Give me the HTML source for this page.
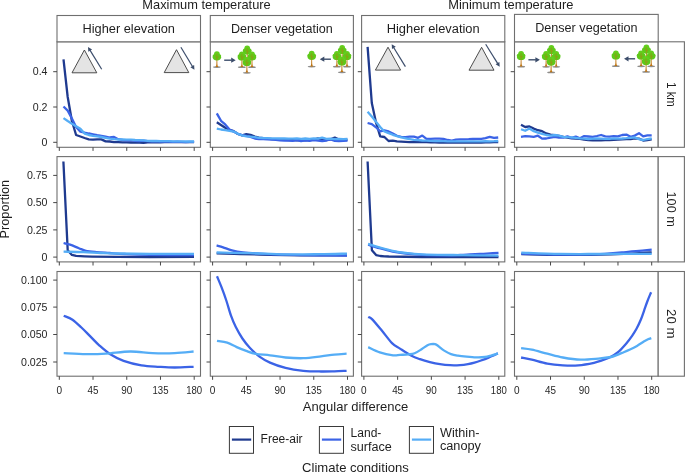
<!DOCTYPE html><html><head><meta charset="utf-8"><title>Angular difference</title><style>html,body{margin:0;padding:0;background:#fff;}svg{display:block;font-family:"Liberation Sans", sans-serif;will-change:transform;}</style></head><body>
<svg width="685" height="473" viewBox="0 0 685 473">
<rect x="0" y="0" width="685" height="473" fill="#fff"/>
<defs>
<g id="tree"><ellipse cx="0" cy="0.2" rx="4" ry="0.85" fill="#8e8e8e"/><path d="M-1.5 0 Q-0.55 -0.8 -0.5 -3 L-0.35 -9 L0.35 -9 L0.5 -3 Q0.55 -0.8 1.5 0 Z" fill="#bf7410"/><ellipse cx="0" cy="-12.7" rx="2.9" ry="2.9" fill="#62cf1d"/><ellipse cx="0" cy="-9.6" rx="4.2" ry="3.1" fill="#5ec91a"/><circle cx="-2.5" cy="-10.9" r="1.8" fill="#5ec91a"/><circle cx="2.5" cy="-10.9" r="1.8" fill="#5ec91a"/><path d="M0 -6.5 L0 -13.5 M0 -9.5 L-1.8 -11.2 M0 -8.3 L1.8 -10.6" stroke="#bf7410" stroke-width="0.6" fill="none" opacity="0.75"/></g>
<g id="cluster"><use href="#tree" x="0.3" y="-11.5"/><use href="#tree" x="-5.0" y="-5.6"/><use href="#tree" x="5.1" y="-5.6"/><use href="#tree" x="0" y="0"/></g>
</defs>
<text x="206.5" y="8.9" font-size="12.2" fill="#1e1e1e" text-anchor="middle" textLength="128.4" lengthAdjust="spacingAndGlyphs">Maximum temperature</text>
<text x="510.8" y="8.9" font-size="12.2" fill="#1e1e1e" text-anchor="middle" textLength="125.2" lengthAdjust="spacingAndGlyphs">Minimum temperature</text>
<rect x="57" y="41.8" width="143.5" height="105.5" fill="none" stroke="#6f6f6f" stroke-width="1.1"/>
<line x1="53.2" y1="142.3" x2="57" y2="142.3" stroke="#474747" stroke-width="1"/>
<line x1="53.2" y1="107" x2="57" y2="107" stroke="#474747" stroke-width="1"/>
<line x1="53.2" y1="71.7" x2="57" y2="71.7" stroke="#474747" stroke-width="1"/>
<line x1="59.3" y1="147.3" x2="59.3" y2="150.9" stroke="#474747" stroke-width="1"/>
<line x1="93.03" y1="147.3" x2="93.03" y2="150.9" stroke="#474747" stroke-width="1"/>
<line x1="126.75" y1="147.3" x2="126.75" y2="150.9" stroke="#474747" stroke-width="1"/>
<line x1="160.47" y1="147.3" x2="160.47" y2="150.9" stroke="#474747" stroke-width="1"/>
<line x1="194.2" y1="147.3" x2="194.2" y2="150.9" stroke="#474747" stroke-width="1"/>
<rect x="210.3" y="41.8" width="143.1" height="105.5" fill="none" stroke="#6f6f6f" stroke-width="1.1"/>
<line x1="206.5" y1="142.3" x2="210.3" y2="142.3" stroke="#474747" stroke-width="1"/>
<line x1="206.5" y1="107" x2="210.3" y2="107" stroke="#474747" stroke-width="1"/>
<line x1="206.5" y1="71.7" x2="210.3" y2="71.7" stroke="#474747" stroke-width="1"/>
<line x1="212.6" y1="147.3" x2="212.6" y2="150.9" stroke="#474747" stroke-width="1"/>
<line x1="246.33" y1="147.3" x2="246.33" y2="150.9" stroke="#474747" stroke-width="1"/>
<line x1="280.05" y1="147.3" x2="280.05" y2="150.9" stroke="#474747" stroke-width="1"/>
<line x1="313.78" y1="147.3" x2="313.78" y2="150.9" stroke="#474747" stroke-width="1"/>
<line x1="347.5" y1="147.3" x2="347.5" y2="150.9" stroke="#474747" stroke-width="1"/>
<rect x="361.6" y="41.8" width="143.2" height="105.5" fill="none" stroke="#6f6f6f" stroke-width="1.1"/>
<line x1="357.8" y1="142.3" x2="361.6" y2="142.3" stroke="#474747" stroke-width="1"/>
<line x1="357.8" y1="107" x2="361.6" y2="107" stroke="#474747" stroke-width="1"/>
<line x1="357.8" y1="71.7" x2="361.6" y2="71.7" stroke="#474747" stroke-width="1"/>
<line x1="363.9" y1="147.3" x2="363.9" y2="150.9" stroke="#474747" stroke-width="1"/>
<line x1="397.63" y1="147.3" x2="397.63" y2="150.9" stroke="#474747" stroke-width="1"/>
<line x1="431.35" y1="147.3" x2="431.35" y2="150.9" stroke="#474747" stroke-width="1"/>
<line x1="465.08" y1="147.3" x2="465.08" y2="150.9" stroke="#474747" stroke-width="1"/>
<line x1="498.8" y1="147.3" x2="498.8" y2="150.9" stroke="#474747" stroke-width="1"/>
<rect x="514.5" y="41.8" width="143.7" height="105.5" fill="none" stroke="#6f6f6f" stroke-width="1.1"/>
<line x1="510.7" y1="142.3" x2="514.5" y2="142.3" stroke="#474747" stroke-width="1"/>
<line x1="510.7" y1="107" x2="514.5" y2="107" stroke="#474747" stroke-width="1"/>
<line x1="510.7" y1="71.7" x2="514.5" y2="71.7" stroke="#474747" stroke-width="1"/>
<line x1="516.8" y1="147.3" x2="516.8" y2="150.9" stroke="#474747" stroke-width="1"/>
<line x1="550.52" y1="147.3" x2="550.52" y2="150.9" stroke="#474747" stroke-width="1"/>
<line x1="584.25" y1="147.3" x2="584.25" y2="150.9" stroke="#474747" stroke-width="1"/>
<line x1="617.97" y1="147.3" x2="617.97" y2="150.9" stroke="#474747" stroke-width="1"/>
<line x1="651.7" y1="147.3" x2="651.7" y2="150.9" stroke="#474747" stroke-width="1"/>
<rect x="658.2" y="41.8" width="26.2" height="105.5" fill="#fff" stroke="#6f6f6f" stroke-width="1.1"/>
<text x="667.4" y="94.55" font-size="12.3" fill="#1e1e1e" text-anchor="middle" textLength="24.5" lengthAdjust="spacingAndGlyphs" transform="rotate(90 667.4 94.55)">1 km</text>
<rect x="57" y="156.6" width="143.5" height="105.3" fill="none" stroke="#6f6f6f" stroke-width="1.1"/>
<line x1="53.2" y1="257.1" x2="57" y2="257.1" stroke="#474747" stroke-width="1"/>
<line x1="53.2" y1="229.9" x2="57" y2="229.9" stroke="#474747" stroke-width="1"/>
<line x1="53.2" y1="202.6" x2="57" y2="202.6" stroke="#474747" stroke-width="1"/>
<line x1="53.2" y1="175.4" x2="57" y2="175.4" stroke="#474747" stroke-width="1"/>
<line x1="59.3" y1="261.9" x2="59.3" y2="265.5" stroke="#474747" stroke-width="1"/>
<line x1="93.03" y1="261.9" x2="93.03" y2="265.5" stroke="#474747" stroke-width="1"/>
<line x1="126.75" y1="261.9" x2="126.75" y2="265.5" stroke="#474747" stroke-width="1"/>
<line x1="160.47" y1="261.9" x2="160.47" y2="265.5" stroke="#474747" stroke-width="1"/>
<line x1="194.2" y1="261.9" x2="194.2" y2="265.5" stroke="#474747" stroke-width="1"/>
<rect x="210.3" y="156.6" width="143.1" height="105.3" fill="none" stroke="#6f6f6f" stroke-width="1.1"/>
<line x1="206.5" y1="257.1" x2="210.3" y2="257.1" stroke="#474747" stroke-width="1"/>
<line x1="206.5" y1="229.9" x2="210.3" y2="229.9" stroke="#474747" stroke-width="1"/>
<line x1="206.5" y1="202.6" x2="210.3" y2="202.6" stroke="#474747" stroke-width="1"/>
<line x1="206.5" y1="175.4" x2="210.3" y2="175.4" stroke="#474747" stroke-width="1"/>
<line x1="212.6" y1="261.9" x2="212.6" y2="265.5" stroke="#474747" stroke-width="1"/>
<line x1="246.33" y1="261.9" x2="246.33" y2="265.5" stroke="#474747" stroke-width="1"/>
<line x1="280.05" y1="261.9" x2="280.05" y2="265.5" stroke="#474747" stroke-width="1"/>
<line x1="313.78" y1="261.9" x2="313.78" y2="265.5" stroke="#474747" stroke-width="1"/>
<line x1="347.5" y1="261.9" x2="347.5" y2="265.5" stroke="#474747" stroke-width="1"/>
<rect x="361.6" y="156.6" width="143.2" height="105.3" fill="none" stroke="#6f6f6f" stroke-width="1.1"/>
<line x1="357.8" y1="257.1" x2="361.6" y2="257.1" stroke="#474747" stroke-width="1"/>
<line x1="357.8" y1="229.9" x2="361.6" y2="229.9" stroke="#474747" stroke-width="1"/>
<line x1="357.8" y1="202.6" x2="361.6" y2="202.6" stroke="#474747" stroke-width="1"/>
<line x1="357.8" y1="175.4" x2="361.6" y2="175.4" stroke="#474747" stroke-width="1"/>
<line x1="363.9" y1="261.9" x2="363.9" y2="265.5" stroke="#474747" stroke-width="1"/>
<line x1="397.63" y1="261.9" x2="397.63" y2="265.5" stroke="#474747" stroke-width="1"/>
<line x1="431.35" y1="261.9" x2="431.35" y2="265.5" stroke="#474747" stroke-width="1"/>
<line x1="465.08" y1="261.9" x2="465.08" y2="265.5" stroke="#474747" stroke-width="1"/>
<line x1="498.8" y1="261.9" x2="498.8" y2="265.5" stroke="#474747" stroke-width="1"/>
<rect x="514.5" y="156.6" width="143.7" height="105.3" fill="none" stroke="#6f6f6f" stroke-width="1.1"/>
<line x1="510.7" y1="257.1" x2="514.5" y2="257.1" stroke="#474747" stroke-width="1"/>
<line x1="510.7" y1="229.9" x2="514.5" y2="229.9" stroke="#474747" stroke-width="1"/>
<line x1="510.7" y1="202.6" x2="514.5" y2="202.6" stroke="#474747" stroke-width="1"/>
<line x1="510.7" y1="175.4" x2="514.5" y2="175.4" stroke="#474747" stroke-width="1"/>
<line x1="516.8" y1="261.9" x2="516.8" y2="265.5" stroke="#474747" stroke-width="1"/>
<line x1="550.52" y1="261.9" x2="550.52" y2="265.5" stroke="#474747" stroke-width="1"/>
<line x1="584.25" y1="261.9" x2="584.25" y2="265.5" stroke="#474747" stroke-width="1"/>
<line x1="617.97" y1="261.9" x2="617.97" y2="265.5" stroke="#474747" stroke-width="1"/>
<line x1="651.7" y1="261.9" x2="651.7" y2="265.5" stroke="#474747" stroke-width="1"/>
<rect x="658.2" y="156.6" width="26.2" height="105.3" fill="#fff" stroke="#6f6f6f" stroke-width="1.1"/>
<text x="667.4" y="209.25" font-size="12.3" fill="#1e1e1e" text-anchor="middle" textLength="35.5" lengthAdjust="spacingAndGlyphs" transform="rotate(90 667.4 209.25)">100 m</text>
<rect x="57" y="271.5" width="143.5" height="104.7" fill="none" stroke="#6f6f6f" stroke-width="1.1"/>
<line x1="53.2" y1="362" x2="57" y2="362" stroke="#474747" stroke-width="1"/>
<line x1="53.2" y1="334.5" x2="57" y2="334.5" stroke="#474747" stroke-width="1"/>
<line x1="53.2" y1="307.1" x2="57" y2="307.1" stroke="#474747" stroke-width="1"/>
<line x1="53.2" y1="280.1" x2="57" y2="280.1" stroke="#474747" stroke-width="1"/>
<line x1="59.3" y1="376.2" x2="59.3" y2="379.8" stroke="#474747" stroke-width="1"/>
<line x1="93.03" y1="376.2" x2="93.03" y2="379.8" stroke="#474747" stroke-width="1"/>
<line x1="126.75" y1="376.2" x2="126.75" y2="379.8" stroke="#474747" stroke-width="1"/>
<line x1="160.47" y1="376.2" x2="160.47" y2="379.8" stroke="#474747" stroke-width="1"/>
<line x1="194.2" y1="376.2" x2="194.2" y2="379.8" stroke="#474747" stroke-width="1"/>
<rect x="210.3" y="271.5" width="143.1" height="104.7" fill="none" stroke="#6f6f6f" stroke-width="1.1"/>
<line x1="206.5" y1="362" x2="210.3" y2="362" stroke="#474747" stroke-width="1"/>
<line x1="206.5" y1="334.5" x2="210.3" y2="334.5" stroke="#474747" stroke-width="1"/>
<line x1="206.5" y1="307.1" x2="210.3" y2="307.1" stroke="#474747" stroke-width="1"/>
<line x1="206.5" y1="280.1" x2="210.3" y2="280.1" stroke="#474747" stroke-width="1"/>
<line x1="212.6" y1="376.2" x2="212.6" y2="379.8" stroke="#474747" stroke-width="1"/>
<line x1="246.33" y1="376.2" x2="246.33" y2="379.8" stroke="#474747" stroke-width="1"/>
<line x1="280.05" y1="376.2" x2="280.05" y2="379.8" stroke="#474747" stroke-width="1"/>
<line x1="313.78" y1="376.2" x2="313.78" y2="379.8" stroke="#474747" stroke-width="1"/>
<line x1="347.5" y1="376.2" x2="347.5" y2="379.8" stroke="#474747" stroke-width="1"/>
<rect x="361.6" y="271.5" width="143.2" height="104.7" fill="none" stroke="#6f6f6f" stroke-width="1.1"/>
<line x1="357.8" y1="362" x2="361.6" y2="362" stroke="#474747" stroke-width="1"/>
<line x1="357.8" y1="334.5" x2="361.6" y2="334.5" stroke="#474747" stroke-width="1"/>
<line x1="357.8" y1="307.1" x2="361.6" y2="307.1" stroke="#474747" stroke-width="1"/>
<line x1="357.8" y1="280.1" x2="361.6" y2="280.1" stroke="#474747" stroke-width="1"/>
<line x1="363.9" y1="376.2" x2="363.9" y2="379.8" stroke="#474747" stroke-width="1"/>
<line x1="397.63" y1="376.2" x2="397.63" y2="379.8" stroke="#474747" stroke-width="1"/>
<line x1="431.35" y1="376.2" x2="431.35" y2="379.8" stroke="#474747" stroke-width="1"/>
<line x1="465.08" y1="376.2" x2="465.08" y2="379.8" stroke="#474747" stroke-width="1"/>
<line x1="498.8" y1="376.2" x2="498.8" y2="379.8" stroke="#474747" stroke-width="1"/>
<rect x="514.5" y="271.5" width="143.7" height="104.7" fill="none" stroke="#6f6f6f" stroke-width="1.1"/>
<line x1="510.7" y1="362" x2="514.5" y2="362" stroke="#474747" stroke-width="1"/>
<line x1="510.7" y1="334.5" x2="514.5" y2="334.5" stroke="#474747" stroke-width="1"/>
<line x1="510.7" y1="307.1" x2="514.5" y2="307.1" stroke="#474747" stroke-width="1"/>
<line x1="510.7" y1="280.1" x2="514.5" y2="280.1" stroke="#474747" stroke-width="1"/>
<line x1="516.8" y1="376.2" x2="516.8" y2="379.8" stroke="#474747" stroke-width="1"/>
<line x1="550.52" y1="376.2" x2="550.52" y2="379.8" stroke="#474747" stroke-width="1"/>
<line x1="584.25" y1="376.2" x2="584.25" y2="379.8" stroke="#474747" stroke-width="1"/>
<line x1="617.97" y1="376.2" x2="617.97" y2="379.8" stroke="#474747" stroke-width="1"/>
<line x1="651.7" y1="376.2" x2="651.7" y2="379.8" stroke="#474747" stroke-width="1"/>
<rect x="658.2" y="271.5" width="26.2" height="104.7" fill="#fff" stroke="#6f6f6f" stroke-width="1.1"/>
<text x="667.4" y="323.85" font-size="12.3" fill="#1e1e1e" text-anchor="middle" textLength="29.5" lengthAdjust="spacingAndGlyphs" transform="rotate(90 667.4 323.85)">20 m</text>
<rect x="57" y="15.5" width="143.5" height="26.3" fill="#fff" stroke="#6f6f6f" stroke-width="1.1"/>
<text x="128.75" y="32.6" font-size="12.5" fill="#1e1e1e" text-anchor="middle" textLength="92.5" lengthAdjust="spacingAndGlyphs">Higher elevation</text>
<rect x="210.3" y="15.5" width="143.1" height="26.3" fill="#fff" stroke="#6f6f6f" stroke-width="1.1"/>
<text x="281.85" y="32.6" font-size="12.5" fill="#1e1e1e" text-anchor="middle" textLength="101.9" lengthAdjust="spacingAndGlyphs">Denser vegetation</text>
<rect x="361.6" y="15.5" width="143.2" height="26.3" fill="#fff" stroke="#6f6f6f" stroke-width="1.1"/>
<text x="433.2" y="32.6" font-size="12.5" fill="#1e1e1e" text-anchor="middle" textLength="93" lengthAdjust="spacingAndGlyphs">Higher elevation</text>
<rect x="514.5" y="14.4" width="143.7" height="27.4" fill="#fff" stroke="#6f6f6f" stroke-width="1.1"/>
<text x="586.35" y="32.2" font-size="12.5" fill="#1e1e1e" text-anchor="middle" textLength="102.4" lengthAdjust="spacingAndGlyphs">Denser vegetation</text>
<text x="47.5" y="146" font-size="10.6" fill="#262626" text-anchor="end">0</text>
<text x="47.5" y="110.7" font-size="10.6" fill="#262626" text-anchor="end">0.2</text>
<text x="47.5" y="75.4" font-size="10.6" fill="#262626" text-anchor="end">0.4</text>
<text x="47.5" y="260.8" font-size="10.6" fill="#262626" text-anchor="end">0</text>
<text x="47.5" y="233.6" font-size="10.6" fill="#262626" text-anchor="end">0.25</text>
<text x="47.5" y="206.3" font-size="10.6" fill="#262626" text-anchor="end">0.50</text>
<text x="47.5" y="179.1" font-size="10.6" fill="#262626" text-anchor="end">0.75</text>
<text x="47.5" y="365.7" font-size="10.6" fill="#262626" text-anchor="end">0.025</text>
<text x="47.5" y="338.2" font-size="10.6" fill="#262626" text-anchor="end">0.050</text>
<text x="47.5" y="310.8" font-size="10.6" fill="#262626" text-anchor="end">0.075</text>
<text x="47.5" y="283.8" font-size="10.6" fill="#262626" text-anchor="end">0.100</text>
<text x="59.3" y="393.8" font-size="10.3" fill="#262626" text-anchor="middle" textLength="5.6" lengthAdjust="spacingAndGlyphs">0</text>
<text x="93.03" y="393.8" font-size="10.3" fill="#262626" text-anchor="middle" textLength="11" lengthAdjust="spacingAndGlyphs">45</text>
<text x="126.75" y="393.8" font-size="10.3" fill="#262626" text-anchor="middle" textLength="11" lengthAdjust="spacingAndGlyphs">90</text>
<text x="160.47" y="393.8" font-size="10.3" fill="#262626" text-anchor="middle" textLength="16" lengthAdjust="spacingAndGlyphs">135</text>
<text x="194.2" y="393.8" font-size="10.3" fill="#262626" text-anchor="middle" textLength="16" lengthAdjust="spacingAndGlyphs">180</text>
<text x="212.6" y="393.8" font-size="10.3" fill="#262626" text-anchor="middle" textLength="5.6" lengthAdjust="spacingAndGlyphs">0</text>
<text x="246.33" y="393.8" font-size="10.3" fill="#262626" text-anchor="middle" textLength="11" lengthAdjust="spacingAndGlyphs">45</text>
<text x="280.05" y="393.8" font-size="10.3" fill="#262626" text-anchor="middle" textLength="11" lengthAdjust="spacingAndGlyphs">90</text>
<text x="313.78" y="393.8" font-size="10.3" fill="#262626" text-anchor="middle" textLength="16" lengthAdjust="spacingAndGlyphs">135</text>
<text x="347.5" y="393.8" font-size="10.3" fill="#262626" text-anchor="middle" textLength="16" lengthAdjust="spacingAndGlyphs">180</text>
<text x="363.9" y="393.8" font-size="10.3" fill="#262626" text-anchor="middle" textLength="5.6" lengthAdjust="spacingAndGlyphs">0</text>
<text x="397.63" y="393.8" font-size="10.3" fill="#262626" text-anchor="middle" textLength="11" lengthAdjust="spacingAndGlyphs">45</text>
<text x="431.35" y="393.8" font-size="10.3" fill="#262626" text-anchor="middle" textLength="11" lengthAdjust="spacingAndGlyphs">90</text>
<text x="465.08" y="393.8" font-size="10.3" fill="#262626" text-anchor="middle" textLength="16" lengthAdjust="spacingAndGlyphs">135</text>
<text x="498.8" y="393.8" font-size="10.3" fill="#262626" text-anchor="middle" textLength="16" lengthAdjust="spacingAndGlyphs">180</text>
<text x="516.8" y="393.8" font-size="10.3" fill="#262626" text-anchor="middle" textLength="5.6" lengthAdjust="spacingAndGlyphs">0</text>
<text x="550.52" y="393.8" font-size="10.3" fill="#262626" text-anchor="middle" textLength="11" lengthAdjust="spacingAndGlyphs">45</text>
<text x="584.25" y="393.8" font-size="10.3" fill="#262626" text-anchor="middle" textLength="11" lengthAdjust="spacingAndGlyphs">90</text>
<text x="617.97" y="393.8" font-size="10.3" fill="#262626" text-anchor="middle" textLength="16" lengthAdjust="spacingAndGlyphs">135</text>
<text x="651.7" y="393.8" font-size="10.3" fill="#262626" text-anchor="middle" textLength="16" lengthAdjust="spacingAndGlyphs">180</text>
<text x="355.6" y="410.9" font-size="12.6" fill="#1e1e1e" text-anchor="middle" textLength="105.5" lengthAdjust="spacingAndGlyphs">Angular difference</text>
<text x="8.8" y="209.1" font-size="11.9" fill="#1e1e1e" text-anchor="middle" textLength="58.6" lengthAdjust="spacingAndGlyphs" transform="rotate(-90 8.8 209.1)">Proportion</text>
<polyline points="63.5,59.3 67.7,97 71.9,121 76.1,135 80.4,136.5 84.6,138 88.8,139.3 93,139.6 97.2,139.4 101.4,139.4 105.6,141.4 109.8,141.5 114,142.2 118.2,142.1 122.5,142.3 126.7,142.4 130.9,142.5 135.1,142.6 139.3,142.7 143.5,142.8 147.7,142.3 152,142.4 156.2,142.2 160.4,142.3 164.6,142.2 168.8,142.2 173,142.1 177.2,142.2 181.5,142.1 185.7,142.2 189.9,142.1 194.1,142.1" fill="none" stroke="#1f3a8f" stroke-width="2.3" stroke-linejoin="round"/>
<polyline points="63.5,106.5 67.7,110.6 71.9,118.5 76.1,127 80.4,131.6 84.6,132.6 88.8,133.5 93,134.3 97.2,135.1 101.4,135.8 105.6,136.6 109.8,137.5 114,136.9 118.2,139.2 122.5,140 126.7,140.4 130.9,140.2 135.1,140.8 139.3,141 143.5,140.6 147.7,141.2 152,141.4 156.2,141.2 160.4,141.5 164.6,141.3 168.8,141.6 173,141.9 177.2,141.6 181.5,141.9 185.7,142.1 189.9,141.8 194.1,141.9" fill="none" stroke="#3b63e6" stroke-width="2.3" stroke-linejoin="round"/>
<polyline points="63.5,118.1 67.7,121 71.9,123.7 76.1,126.2 80.4,128.8 84.6,133.6 88.8,135 93,135.8 97.2,136.3 101.4,137 105.6,137.8 109.8,138.6 114,139.2 118.2,139.5 122.5,139.4 126.7,139.6 130.9,139.7 135.1,140 139.3,140.1 143.5,140.4 147.7,140.9 152,141 156.2,140.8 160.4,141.1 164.6,141.2 168.8,141.1 173,141.3 177.2,141.4 181.5,141.3 185.7,141.5 189.9,141.4 194.1,141.5" fill="none" stroke="#55adf6" stroke-width="2.3" stroke-linejoin="round"/>
<polyline points="216.8,122.2 221,125 225.2,127.8 229.5,129.8 233.7,131.2 237.9,134 242.1,135.4 246.3,134.2 250.5,134.8 254.8,136.6 259,137.6 263.2,138.1 267.4,138.6 271.6,139 275.8,139.2 280,139.7 284.3,139.8 288.5,140 292.7,140.2 296.9,140.4 301.1,140.1 305.3,140.3 309.5,140.2 313.8,139.7 318,138.4 322.2,139.6 326.4,140.2 330.6,139.4 334.8,137.6 339,139.6 343.3,140.2 347.5,139.6" fill="none" stroke="#1f3a8f" stroke-width="2.3" stroke-linejoin="round"/>
<polyline points="216.8,113.4 221,120.8 225.2,124.4 229.5,129.6 233.7,131.6 237.9,133.8 242.1,135.2 246.3,135.9 250.5,137 254.8,138.5 259,139 263.2,139.1 267.4,139.4 271.6,139.7 275.8,139.9 280,140.4 284.3,140.6 288.5,140.5 292.7,140.8 296.9,140.2 301.1,141 305.3,140.4 309.5,140.9 313.8,140.2 318,140.6 322.2,141 326.4,140.5 330.6,139.5 334.8,140.8 339,141 343.3,140.9 347.5,140.6" fill="none" stroke="#3b63e6" stroke-width="2.3" stroke-linejoin="round"/>
<polyline points="216.8,128.6 221,129.5 225.2,130.2 229.5,130.9 233.7,131.6 237.9,133.8 242.1,135.3 246.3,136.3 250.5,136.7 254.8,137.2 259,137.8 263.2,138 267.4,138.1 271.6,138.3 275.8,138.4 280,138.5 284.3,138.5 288.5,138.6 292.7,138.7 296.9,138.4 301.1,138.8 305.3,138.5 309.5,138.9 313.8,138.3 318,138.6 322.2,137.6 326.4,138.8 330.6,138.6 334.8,139.1 339,139 343.3,139.2 347.5,138.9" fill="none" stroke="#55adf6" stroke-width="2.3" stroke-linejoin="round"/>
<polyline points="367.6,46.9 371.8,103 376,122.4 380.2,136.4 384.4,137 388.6,141 392.8,140.7 397,141.3 401.2,141.6 405.5,141.9 409.7,142.2 413.9,142.1 418.1,142 422.3,142.1 426.5,142.2 430.7,142.3 435,142.4 439.2,142.5 443.4,142.4 447.6,142.6 451.8,142.7 456,142.6 460.2,142.5 464.5,142.6 468.7,142.5 472.9,142.4 477.1,142.6 481.3,142.5 485.5,142.4 489.7,142.3 494,142.2 498.2,142" fill="none" stroke="#1f3a8f" stroke-width="2.3" stroke-linejoin="round"/>
<polyline points="367.6,123 371.8,124.1 376,127.3 380.2,131.4 384.4,130.4 388.6,131.4 392.8,133.6 397,135.8 401.2,136.8 405.5,137.2 409.7,136.7 413.9,136.7 418.1,137.8 422.3,135.6 426.5,138.8 430.7,138.9 435,138.7 439.2,138.7 443.4,138.9 447.6,140 451.8,140.6 456,139.6 460.2,139.4 464.5,139.3 468.7,139.2 472.9,139 477.1,138.9 481.3,138.8 485.5,138.1 489.7,136.8 494,137.9 498.2,137.5" fill="none" stroke="#3b63e6" stroke-width="2.3" stroke-linejoin="round"/>
<polyline points="367.6,111.7 371.8,116.6 376,121.7 380.2,127 384.4,131.5 388.6,133.1 392.8,134.8 397,136.2 401.2,137.4 405.5,138.3 409.7,139.1 413.9,139.9 418.1,140.2 422.3,140.5 426.5,140.6 430.7,140.8 435,141 439.2,141.1 443.4,141.2 447.6,141.3 451.8,141.4 456,141.3 460.2,141.4 464.5,141.3 468.7,141.4 472.9,141.3 477.1,141.4 481.3,141.3 485.5,141.2 489.7,141.3 494,141.2 498.2,141" fill="none" stroke="#55adf6" stroke-width="2.3" stroke-linejoin="round"/>
<polyline points="521,124.8 525.2,127 529.4,126.4 533.7,128.6 537.9,130.2 542.1,131.2 546.3,133.4 550.5,134.6 554.7,135.1 558.9,135.9 563.2,136.8 567.4,137.6 571.6,138.3 575.8,138.5 580,138.8 584.2,139.5 588.4,140.1 592.7,140.3 596.9,140.4 601.1,140.3 605.3,140.2 609.5,140 613.7,139.8 617.9,139.5 622.2,139.3 626.4,139.1 630.6,139 634.8,138.3 639,138.6 643.2,140.5 647.4,140 651.7,139.4" fill="none" stroke="#1f3a8f" stroke-width="2.3" stroke-linejoin="round"/>
<polyline points="521,136.8 525.2,136.2 529.4,136.3 533.7,136.8 537.9,135.7 542.1,138.6 546.3,138.5 550.5,137.6 554.7,136.9 558.9,137.6 563.2,137.6 567.4,136.4 571.6,137.9 575.8,136.6 580,138.3 584.2,136.1 588.4,136.5 592.7,136.9 596.9,136 601.1,135 605.3,136.4 609.5,136.7 613.7,136.2 617.9,136.3 622.2,135 626.4,134.6 630.6,136.8 634.8,135.6 639,133.2 643.2,136.4 647.4,135.4 651.7,135.3" fill="none" stroke="#3b63e6" stroke-width="2.3" stroke-linejoin="round"/>
<polyline points="521,129.2 525.2,130.8 529.4,128.6 533.7,131.2 537.9,132.6 542.1,133.8 546.3,135 550.5,135.6 554.7,135 558.9,135.6 563.2,136.9 567.4,137.2 571.6,137.4 575.8,137.9 580,138.3 584.2,138.6 588.4,139 592.7,138.7 596.9,138.5 601.1,138.6 605.3,138.9 609.5,138.8 613.7,138.4 617.9,138.6 622.2,138.5 626.4,138.2 630.6,137.8 634.8,137.4 639,139.2 643.2,140 647.4,139.1 651.7,138.4" fill="none" stroke="#55adf6" stroke-width="2.3" stroke-linejoin="round"/>
<polyline points="63.4,161.5 67.7,250.2 71.9,254.9 76.1,255.9 80.4,256.2 84.6,256.4 92,256.6 117,256.9 150,257 194,256.8" fill="none" stroke="#1f3a8f" stroke-width="2.3" stroke-linejoin="round"/>
<path d="M63.6 243 C64.68 243.28 67.55 243.83 70.1 244.7 C72.65 245.57 76.27 247.18 78.9 248.2 C81.53 249.22 82.98 250.15 85.9 250.8 C88.82 251.45 92.47 251.73 96.4 252.1 C100.33 252.47 104.73 252.68 109.5 253 C114.27 253.32 118.25 253.7 125 254 C131.75 254.3 138.5 254.62 150 254.8 C161.5 254.98 186.67 255.05 194 255.1" fill="none" stroke="#3b63e6" stroke-width="2.3" stroke-linejoin="round"/>
<path d="M63.6 251.7 C66.88 251.77 77.1 251.88 83.3 252.1 C89.5 252.32 95.18 252.77 100.8 253 C106.42 253.23 108.8 253.37 117 253.5 C125.2 253.63 137.17 253.75 150 253.8 C162.83 253.85 186.67 253.8 194 253.8" fill="none" stroke="#55adf6" stroke-width="2.3" stroke-linejoin="round"/>
<path d="M216.6 253.4 C220.5 253.5 231.1 253.77 240 254 C248.9 254.23 260 254.58 270 254.8 C280 255.02 290 255.2 300 255.3 C310 255.4 322.17 255.38 330 255.4 C337.83 255.42 344.17 255.4 347 255.4" fill="none" stroke="#1f3a8f" stroke-width="2.3" stroke-linejoin="round"/>
<path d="M216.6 245.4 C217.68 245.72 220.55 246.48 223.1 247.3 C225.65 248.12 228.6 249.47 231.9 250.3 C235.2 251.13 238.33 251.75 242.9 252.3 C247.47 252.85 252.28 253.2 259.3 253.6 C266.32 254 274.88 254.42 285 254.7 C295.12 254.98 309.67 255.15 320 255.3 C330.33 255.45 342.5 255.55 347 255.6" fill="none" stroke="#3b63e6" stroke-width="2.3" stroke-linejoin="round"/>
<path d="M216.6 252.5 C222.17 252.6 238.6 252.78 250 253.1 C261.4 253.42 273.33 254.22 285 254.4 C296.67 254.58 309.67 254.33 320 254.2 C330.33 254.07 342.5 253.7 347 253.6" fill="none" stroke="#55adf6" stroke-width="2.3" stroke-linejoin="round"/>
<polyline points="367.6,161.5 371.9,250.3 376.1,255.1 380.3,256 384.5,256.3 388.7,256.5 422,257 460,257.1 498.5,257.2" fill="none" stroke="#1f3a8f" stroke-width="2.3" stroke-linejoin="round"/>
<path d="M368.1 244.6 C370 245.2 375.42 247.05 379.5 248.2 C383.58 249.35 388.22 250.62 392.6 251.5 C396.98 252.38 400.9 252.95 405.8 253.5 C410.7 254.05 415.47 254.5 422 254.8 C428.53 255.1 438.67 255.27 445 255.3 C451.33 255.33 455.83 255.13 460 255 C464.17 254.87 466.67 254.67 470 254.5 C473.33 254.33 476.67 254.18 480 254 C483.33 253.82 486.92 253.58 490 253.4 C493.08 253.22 497.08 252.98 498.5 252.9" fill="none" stroke="#3b63e6" stroke-width="2.3" stroke-linejoin="round"/>
<path d="M368.1 243.8 C370 244.38 375.42 246.13 379.5 247.3 C383.58 248.47 388.22 249.85 392.6 250.8 C396.98 251.75 400.9 252.42 405.8 253 C410.7 253.58 412.97 253.95 422 254.3 C431.03 254.65 447.25 254.88 460 255.1 C472.75 255.32 492.08 255.52 498.5 255.6" fill="none" stroke="#55adf6" stroke-width="2.3" stroke-linejoin="round"/>
<path d="M521.3 254.1 C527.75 254.23 546.88 254.82 560 254.9 C573.12 254.98 589.17 254.78 600 254.6 C610.83 254.42 617.5 254.12 625 253.8 C632.5 253.48 640.55 252.93 645 252.7 C649.45 252.47 650.58 252.45 651.7 252.4" fill="none" stroke="#1f3a8f" stroke-width="2.3" stroke-linejoin="round"/>
<path d="M521.3 253.6 C527.75 253.75 546.88 254.42 560 254.5 C573.12 254.58 591.67 254.28 600 254.1 C608.33 253.92 606.33 253.68 610 253.4 C613.67 253.12 617.67 252.77 622 252.4 C626.33 252.03 631.05 251.67 636 251.2 C640.95 250.73 649.08 249.87 651.7 249.6" fill="none" stroke="#3b63e6" stroke-width="2.3" stroke-linejoin="round"/>
<path d="M521.3 252.6 C527.75 252.82 546.88 253.67 560 253.9 C573.12 254.13 584.72 254 600 254 C615.28 254 643.08 253.92 651.7 253.9" fill="none" stroke="#55adf6" stroke-width="2.3" stroke-linejoin="round"/>
<path d="M63.7 315.7 C65.17 316.37 69.55 317.73 72.5 319.7 C75.45 321.67 78.43 324.72 81.4 327.5 C84.37 330.28 87.33 333.43 90.3 336.4 C93.27 339.37 95.87 342.33 99.2 345.3 C102.53 348.27 106.23 351.62 110.3 354.2 C114.37 356.78 118.42 358.95 123.6 360.8 C128.78 362.65 135.47 364.3 141.4 365.3 C147.33 366.3 153.65 366.43 159.2 366.8 C164.75 367.17 168.97 367.5 174.7 367.5 C180.43 367.5 190.45 366.92 193.6 366.8" fill="none" stroke="#3b63e6" stroke-width="2.3" stroke-linejoin="round"/>
<path d="M63.7 353.1 C67.4 353.28 78.87 354.1 85.9 354.2 C92.93 354.3 98.5 354.15 105.9 353.7 C113.3 353.25 122.53 351.6 130.3 351.5 C138.07 351.4 145.1 352.83 152.5 353.1 C159.9 353.37 167.85 353.37 174.7 353.1 C181.55 352.83 190.45 351.77 193.6 351.5" fill="none" stroke="#55adf6" stroke-width="2.3" stroke-linejoin="round"/>
<path d="M217 276.3 C217.75 278.12 219.95 283.17 221.5 287.2 C223.05 291.23 224.72 295.75 226.3 300.5 C227.88 305.25 229.42 311.27 231 315.7 C232.58 320.13 233.9 323.3 235.8 327.1 C237.7 330.9 240.03 335.02 242.4 338.5 C244.77 341.98 247.15 344.98 250 348 C252.85 351.02 256.17 354.17 259.5 356.6 C262.83 359.03 265.67 360.72 270 362.6 C274.33 364.48 279.95 366.53 285.5 367.9 C291.05 369.27 297.38 370.2 303.3 370.8 C309.22 371.4 315.82 371.42 321 371.5 C326.18 371.58 330.13 371.42 334.4 371.3 C338.67 371.18 344.57 370.88 346.6 370.8" fill="none" stroke="#3b63e6" stroke-width="2.3" stroke-linejoin="round"/>
<path d="M217 340.8 C218.7 341.12 223.92 341.65 227.2 342.7 C230.48 343.75 233.53 345.73 236.7 347.1 C239.87 348.47 243.03 349.78 246.2 350.9 C249.37 352.02 251.73 353.07 255.7 353.8 C259.67 354.53 265.03 354.68 270 355.3 C274.97 355.92 279.95 357.02 285.5 357.5 C291.05 357.98 297.38 358.38 303.3 358.2 C309.22 358.02 315.82 357 321 356.4 C326.18 355.8 330.13 355.05 334.4 354.6 C338.67 354.15 344.57 353.85 346.6 353.7" fill="none" stroke="#55adf6" stroke-width="2.3" stroke-linejoin="round"/>
<path d="M368.2 316.9 C368.83 317.27 369.7 316.78 372 319.1 C374.3 321.42 378.67 326.8 382 330.8 C385.33 334.8 389 340.13 392 343.1 C395 346.07 396.83 346.53 400 348.6 C403.17 350.67 407.67 353.73 411 355.5 C414.33 357.27 416.85 358.1 420 359.2 C423.15 360.3 426.57 361.27 429.9 362.1 C433.23 362.93 436.65 363.68 440 364.2 C443.35 364.72 446.67 365.05 450 365.2 C453.33 365.35 457 365.28 460 365.1 C463 364.92 465.58 364.52 468 364.1 C470.42 363.68 472.33 363.2 474.5 362.6 C476.67 362 478.65 361.33 481 360.5 C483.35 359.67 485.78 358.78 488.6 357.6 C491.42 356.42 496.35 354.1 497.9 353.4" fill="none" stroke="#3b63e6" stroke-width="2.3" stroke-linejoin="round"/>
<path d="M368.2 347.1 C370.13 347.98 375.65 351.03 379.8 352.4 C383.95 353.77 389.73 354.88 393.1 355.3 C396.47 355.72 397.42 355.05 400 354.9 C402.58 354.75 406.17 354.67 408.6 354.4 C411.03 354.13 412.38 354.2 414.6 353.3 C416.82 352.4 419.75 350.33 421.9 349 C424.05 347.67 425.98 346.1 427.5 345.3 C429.02 344.5 429.75 344.38 431 344.2 C432.25 344.02 433.75 343.87 435 344.2 C436.25 344.53 437.03 345.17 438.5 346.2 C439.97 347.23 441.72 349.08 443.8 350.4 C445.88 351.72 448.63 353.22 451 354.1 C453.37 354.98 455.83 355.33 458 355.7 C460.17 356.07 461.02 356.03 464 356.3 C466.98 356.57 472.4 357.18 475.9 357.3 C479.4 357.42 482.48 357.28 485 357 C487.52 356.72 488.85 356.2 491 355.6 C493.15 355 496.75 353.77 497.9 353.4" fill="none" stroke="#55adf6" stroke-width="2.3" stroke-linejoin="round"/>
<path d="M521.1 357.5 C522.88 357.87 527.43 358.67 531.8 359.7 C536.17 360.73 542.12 362.77 547.3 363.7 C552.48 364.63 557.72 365.03 562.9 365.3 C568.08 365.57 573.22 365.72 578.4 365.3 C583.58 364.88 590.07 363.62 594 362.8 C597.93 361.98 599.33 361.32 602 360.4 C604.67 359.48 607.33 358.67 610 357.3 C612.67 355.93 615.28 354.52 618 352.2 C620.72 349.88 623.95 346.13 626.3 343.4 C628.65 340.67 630.4 338.23 632.1 335.8 C633.8 333.37 635.02 331.55 636.5 328.8 C637.98 326.05 639.73 322.33 641 319.3 C642.27 316.27 643.05 313.57 644.1 310.6 C645.15 307.63 646.13 304.57 647.3 301.5 C648.47 298.43 650.47 293.75 651.1 292.2" fill="none" stroke="#3b63e6" stroke-width="2.3" stroke-linejoin="round"/>
<path d="M521.1 348.2 C522.88 348.45 527.43 348.78 531.8 349.7 C536.17 350.62 542.12 352.4 547.3 353.7 C552.48 355 557.35 356.5 562.9 357.5 C568.45 358.5 574.68 359.52 580.6 359.7 C586.52 359.88 593.33 359.05 598.4 358.6 C603.47 358.15 608.07 357.55 611 357 C613.93 356.45 614.17 355.98 616 355.3 C617.83 354.62 619.67 353.87 622 352.9 C624.33 351.93 627.5 350.67 630 349.5 C632.5 348.33 634.7 347.22 637 345.9 C639.3 344.58 641.97 342.7 643.8 341.6 C645.63 340.5 646.75 339.88 648 339.3 C649.25 338.72 650.75 338.3 651.3 338.1" fill="none" stroke="#55adf6" stroke-width="2.3" stroke-linejoin="round"/>
<path d="M84.4 50 L96.8 72.8 L72 72.8 Z" fill="#e4e4e4" stroke="#3a3a3a" stroke-width="0.9" stroke-linejoin="miter"/>
<line x1="101.7" y1="69.3" x2="89.94" y2="50.15" stroke="#3c4d6b" stroke-width="1.2"/>
<path d="M88 47 L92.07 49.43 L88.32 51.73 Z" fill="#3c4d6b"/>
<path d="M176.5 49.7 L188.8 72.6 L164.2 72.6 Z" fill="#e4e4e4" stroke="#3a3a3a" stroke-width="0.9" stroke-linejoin="miter"/>
<line x1="180.9" y1="47.2" x2="192.5" y2="66.53" stroke="#3c4d6b" stroke-width="1.2"/>
<path d="M194.4 69.7 L190.35 67.23 L194.13 64.97 Z" fill="#3c4d6b"/>
<path d="M388 47.2 L400.6 70.1 L375.4 70.1 Z" fill="#e4e4e4" stroke="#3a3a3a" stroke-width="0.9" stroke-linejoin="miter"/>
<line x1="405.4" y1="66.6" x2="393.64" y2="47.45" stroke="#3c4d6b" stroke-width="1.2"/>
<path d="M391.7 44.3 L395.77 46.73 L392.02 49.03 Z" fill="#3c4d6b"/>
<path d="M481.6 47.3 L494 70.2 L469 70.2 Z" fill="#e4e4e4" stroke="#3a3a3a" stroke-width="0.9" stroke-linejoin="miter"/>
<line x1="485.7" y1="44.2" x2="497.75" y2="63.56" stroke="#3c4d6b" stroke-width="1.2"/>
<path d="M499.7 66.7 L495.61 64.3 L499.35 61.97 Z" fill="#3c4d6b"/>
<use href="#tree" x="216.9" y="66.9"/>
<line x1="224.2" y1="60.2" x2="231.7" y2="60.2" stroke="#3c4d6b" stroke-width="1.4"/>
<path d="M235.7 60.2 L231.2 62.8 L231.2 57.6 Z" fill="#3c4d6b"/>
<use href="#cluster" x="246.9" y="72.6"/>
<use href="#tree" x="311.7" y="66.4"/>
<line x1="330.9" y1="59.2" x2="323.8" y2="59.2" stroke="#3c4d6b" stroke-width="1.4"/>
<path d="M319.8 59.2 L324.3 56.6 L324.3 61.8 Z" fill="#3c4d6b"/>
<use href="#cluster" x="341.9" y="72.1"/>
<use href="#tree" x="521.1" y="66.5"/>
<line x1="528.4" y1="59.8" x2="535.9" y2="59.8" stroke="#3c4d6b" stroke-width="1.4"/>
<path d="M539.9 59.8 L535.4 62.4 L535.4 57.2 Z" fill="#3c4d6b"/>
<use href="#cluster" x="551.1" y="72.2"/>
<use href="#tree" x="615.9" y="66"/>
<line x1="635.1" y1="58.8" x2="628" y2="58.8" stroke="#3c4d6b" stroke-width="1.4"/>
<path d="M624 58.8 L628.5 56.2 L628.5 61.4 Z" fill="#3c4d6b"/>
<use href="#cluster" x="646.1" y="71.7"/>
<rect x="229.4" y="426.5" width="24.1" height="26.8" fill="#fff" stroke="#3a3a3a" stroke-width="1"/>
<line x1="231.9" y1="439.6" x2="251.2" y2="439.6" stroke="#1f3a8f" stroke-width="2.2"/>
<rect x="319.4" y="426.5" width="24.1" height="26.8" fill="#fff" stroke="#3a3a3a" stroke-width="1"/>
<line x1="321.9" y1="439.6" x2="341.2" y2="439.6" stroke="#3b63e6" stroke-width="2.2"/>
<rect x="409.4" y="426.5" width="24.1" height="26.8" fill="#fff" stroke="#3a3a3a" stroke-width="1"/>
<line x1="411.9" y1="439.6" x2="431.2" y2="439.6" stroke="#55adf6" stroke-width="2.2"/>
<text x="260.6" y="442.9" font-size="12" fill="#1e1e1e" textLength="42" lengthAdjust="spacingAndGlyphs">Free-air</text>
<text x="350.6" y="436.6" font-size="12" fill="#1e1e1e" textLength="30.8" lengthAdjust="spacingAndGlyphs">Land-</text>
<text x="350.4" y="450.5" font-size="12" fill="#1e1e1e" textLength="41.4" lengthAdjust="spacingAndGlyphs">surface</text>
<text x="440.1" y="436.5" font-size="12" fill="#1e1e1e" textLength="39.3" lengthAdjust="spacingAndGlyphs">Within-</text>
<text x="439.9" y="450.3" font-size="12" fill="#1e1e1e" textLength="41.1" lengthAdjust="spacingAndGlyphs">canopy</text>
<text x="355.5" y="472.2" font-size="12.6" fill="#1e1e1e" text-anchor="middle" textLength="106.8" lengthAdjust="spacingAndGlyphs">Climate conditions</text>
</svg></body></html>
